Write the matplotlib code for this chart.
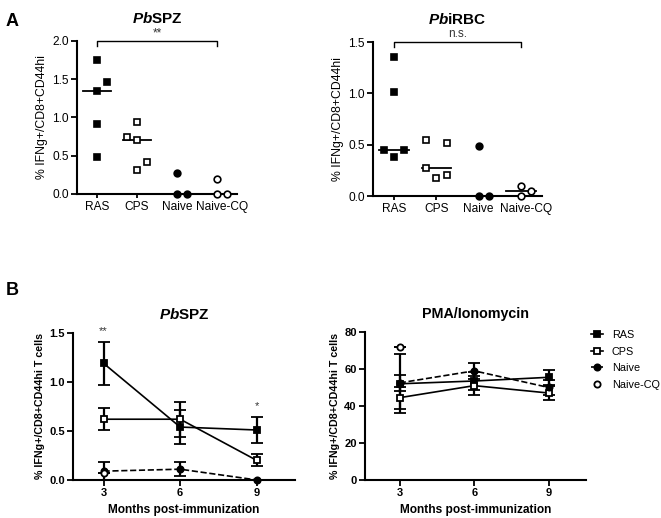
import numpy as np
import matplotlib
matplotlib.use('Agg')
import matplotlib.pyplot as plt
import matplotlib.transforms as mtransforms
from matplotlib.lines import Line2D

plt.rcParams['font.family'] = ['Liberation Sans', 'DejaVu Sans']
plt.rcParams['mathtext.fontset'] = 'custom'
plt.rcParams['mathtext.it'] = 'Liberation Sans:italic:bold'
plt.rcParams['mathtext.rm'] = 'Liberation Sans:bold'

GROUPS = ['RAS', 'CPS', 'Naive', 'Naive-CQ']

# panel A, single mice
SPZ_VALUES = [[1.75, 1.47, 1.35, 0.91, 0.49],
              [0.94, 0.74, 0.71, 0.42, 0.32],
              [0.28, 0.0, 0.0],
              [0.20, 0.0, 0.0]]
SPZ_MEDIAN = [1.35, 0.71, 0.0, 0.0]
RBC_VALUES = [[1.35, 1.01, 0.45, 0.45, 0.38],
              [0.55, 0.52, 0.27, 0.18, 0.20],
              [0.49, 0.0, 0.0],
              [0.10, 0.05, 0.0]]
RBC_MEDIAN = [0.45, 0.27, 0.0, 0.05]

# scatter slots (column-scatter layout, -1 left / 0 centre / 1 right)
SPZ_SLOTS = [[0, 1, 0, 0, 0], [0, -1, 0, 1, 0], [0, 0, 1], [0, 0, 1]]
RBC_SLOTS = [[0, 0, -1, 1, 0], [-1, 1, -1, 0, 1], [0, 0, 1], [0, 1, 0]]

# panel B, mean +/- sem over time
MONTHS = [3, 6, 9]
SPZ_MEAN = {'RAS': [1.19, 0.54, 0.51], 'CPS': [0.62, 0.62, 0.20],
            'Naive': [0.09, 0.11, 0.0], 'Naive-CQ': [0.07]}
SPZ_SEM = {'RAS': [0.22, 0.17, 0.13], 'CPS': [0.11, 0.18, 0.06],
           'Naive': [0.09, 0.07, 0.0], 'Naive-CQ': [0.0]}
PMA_MEAN = {'RAS': [52.0, 53.5, 55.5], 'CPS': [44.5, 51.0, 47.0],
            'Naive': [52.5, 59.0, 50.0], 'Naive-CQ': [72.0]}
PMA_SEM = {'RAS': [16.0, 5.0, 4.0], 'CPS': [6.0, 5.0, 4.0],
           'Naive': [4.5, 4.5, 4.0], 'Naive-CQ': [0.0]}

STYLE = {'RAS': dict(marker='s', mfc='black', ls='-'),
         'CPS': dict(marker='s', mfc='white', ls='-'),
         'Naive': dict(marker='o', mfc='black', ls='--'),
         'Naive-CQ': dict(marker='o', mfc='white', ls='none')}


def style_axes(ax, bold=False, size=8):
    for s in ['top', 'right']:
        ax.spines[s].set_visible(False)
    for s in ['left', 'bottom']:
        ax.spines[s].set_linewidth(1.5)
    ax.tick_params(width=1.3, length=4, labelsize=size, pad=2)
    if bold:
        for lab in ax.get_xticklabels() + ax.get_yticklabels():
            lab.set_fontweight('bold')


def column_scatter(ax, values, medians, slots, ymax, step, star):
    for i, (vals, sl) in enumerate(zip(values, slots)):
        st = STYLE[GROUPS[i]]
        xs = [i + 0.24 * s for s in sl]
        ax.plot(xs, vals, ls='none', marker=st['marker'], mfc=st['mfc'], mec='black',
                mew=1.2, ms=4.8 if st['marker'] == 's' else 4.8, clip_on=False, zorder=4)
        ax.plot([i - 0.35, i + 0.35], [medians[i]] * 2, color='black', lw=1.3, zorder=3)
    ax.set_xlim(-0.5, 3.5)
    ax.set_ylim(0, ymax)
    ax.set_yticks(np.arange(0, ymax + 0.01, step))
    ax.yaxis.set_major_formatter(matplotlib.ticker.FormatStrFormatter('%.1f'))
    ax.set_xticks(range(4))
    ax.set_xticklabels(GROUPS)
    # significance bracket RAS vs Naive-CQ
    d = ymax * 0.035
    ax.plot([0, 0, 3, 3], [ymax - d, ymax, ymax, ymax - d], color='black', lw=1.0, clip_on=False)
    ax.text(1.5, ymax + ymax * 0.01, star, ha='center', va='bottom', fontsize=8.5, color='#333333')
    ax.set_ylabel('% IFNg+/CD8+CD44hi', fontsize=8.8, labelpad=3)
    style_axes(ax, size=8.6)
    ax.tick_params(axis='x', length=3)
    # last label nudged right so it does not touch "Naive"
    last = ax.get_xticklabels()[-1]
    shift = mtransforms.ScaledTranslation(5 / 100, 0, ax.figure.dpi_scale_trans)
    last.set_transform(last.get_transform() + shift)


def time_course(ax, means, sems):
    for g in GROUPS:
        st = STYLE[g]
        x = MONTHS[:len(means[g])]
        ax.errorbar(x, means[g], yerr=sems[g], color='black', ls=st['ls'], lw=1.2,
                    marker=st['marker'], mfc=st['mfc'], mec='black', mew=1.3, ms=4.5,
                    elinewidth=1.6, capsize=4, capthick=1.6, zorder=3, clip_on=False)
    ax.set_xticks(MONTHS)
    ax.set_xlabel('Months post-immunization', fontsize=8.6, fontweight='bold', labelpad=4)
    ax.set_ylabel('% IFNg+/CD8+CD44hi T cells', fontsize=7.7, fontweight='bold', labelpad=3)


fig = plt.figure(figsize=(6.61, 5.18), dpi=100)

ax1 = fig.add_axes([0.1165, 0.6255, 0.242, 0.2954])
column_scatter(ax1, SPZ_VALUES, SPZ_MEDIAN, SPZ_SLOTS, 2.0, 0.5, '**')
ax1.set_title(r'$\it{Pb}$SPZ', fontsize=11, fontweight='bold', pad=13)

ax2 = fig.add_axes([0.5643, 0.6216, 0.2557, 0.2973])
column_scatter(ax2, RBC_VALUES, RBC_MEDIAN, RBC_SLOTS, 1.5, 0.5, 'n.s.')
ax2.set_title(r'$\it{Pb}$iRBC', fontsize=11, fontweight='bold', pad=13)

ax3 = fig.add_axes([0.1104, 0.0734, 0.3359, 0.2838])
time_course(ax3, SPZ_MEAN, SPZ_SEM)
ax3.set_xlim(1.8, 10.5)
ax3.set_ylim(0, 1.5)
ax3.set_yticks([0, 0.5, 1.0, 1.5])
ax3.yaxis.set_major_formatter(matplotlib.ticker.FormatStrFormatter('%.1f'))
ax3.text(3, 1.47, '**', ha='center', va='bottom', fontsize=8, color='#333333')
ax3.text(9, 0.7, '*', ha='center', va='bottom', fontsize=8, color='#333333')
ax3.set_title(r'$\it{Pb}$SPZ', fontsize=11, fontweight='bold', pad=10)
style_axes(ax3, bold=True)

ax4 = fig.add_axes([0.5522, 0.0734, 0.3343, 0.2857])
time_course(ax4, PMA_MEAN, PMA_SEM)
ax4.set_xlim(1.6, 10.5)
ax4.set_ylim(0, 80)
ax4.set_yticks([0, 20, 40, 60, 80])
ax4.set_title('PMA/Ionomycin', fontsize=10.3, fontweight='bold', pad=10)
style_axes(ax4, bold=True)

handles = [Line2D([], [], color='black', ls=STYLE[g]['ls'] if g != 'Naive-CQ' else 'none',
                  lw=1.2, marker=STYLE[g]['marker'], mfc=STYLE[g]['mfc'], mec='black',
                  mew=1.3, ms=4.5) for g in GROUPS]
fig.legend(handles, GROUPS, loc='upper left', bbox_to_anchor=(0.891, 0.367), frameon=False,
           fontsize=7.8, handlelength=1.1, handletextpad=0.8, labelspacing=0.6,
           borderaxespad=0, borderpad=0.2)

fig.text(0.008, 0.975, 'A', fontsize=13, fontweight='bold', va='top')
fig.text(0.008, 0.455, 'B', fontsize=13, fontweight='bold', va='top')

fig.savefig('out.png', dpi=100)
